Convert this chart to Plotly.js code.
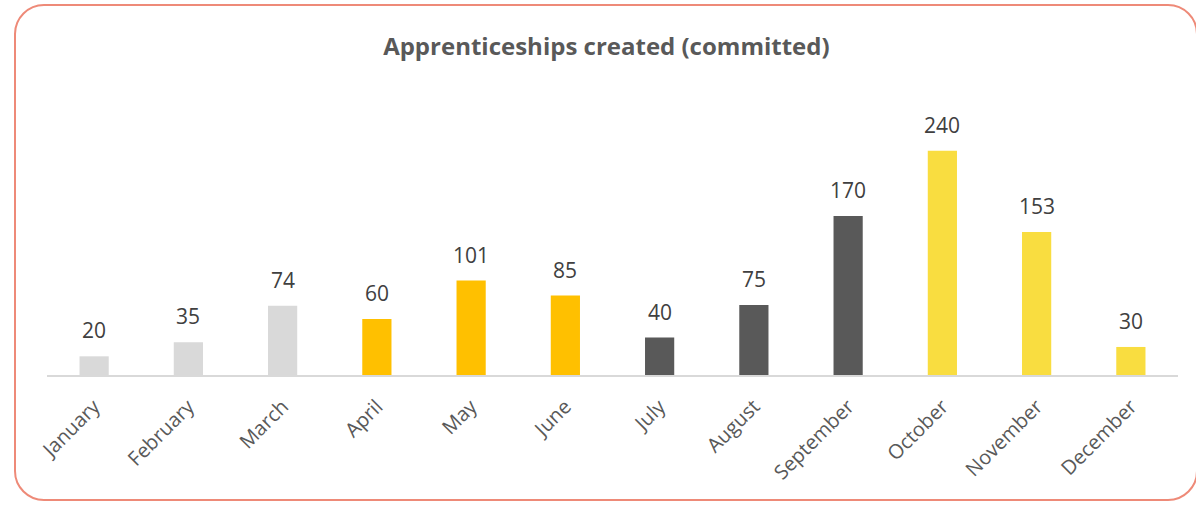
<!DOCTYPE html>
<html>
<head>
<meta charset="utf-8">
<script src="https://cdn.plot.ly/plotly-3.0.1.min.js"></script>
<style>
  html, body { margin: 0; padding: 0; background: #fff; overflow: hidden; }
  #frame { position: absolute; left: 14px; top: 4px; width: 1184px; height: 497px;
           border: 2.5px solid #EE8A78; border-radius: 30px; box-sizing: border-box; }
  #chart { position: absolute; left: 0; top: 0; width: 1196px; height: 505px; }
</style>
</head>
<body>
<div id="frame"></div>
<div id="chart"></div>
<script>
const months = ["January","February","March","April","May","June","July","August","September","October","November","December"];
const committed = [20, 35, 74, 60, 101, 85, 40, 75, 170, 240, 153, 30];
const quarterOfMonth = [0,0,0,1,1,1,2,2,2,3,3,3];

const quarterColors = ["#D9D9D9", "#FFC000", "#595959", "#F9DD40"];

const trace = {
  type: "bar",
  x: months,
  y: committed,
  marker: { color: quarterOfMonth.map(q => quarterColors[q]) },
  hoverinfo: "x+y"
};

const annotations = months.map((m, i) => ({
  x: m, y: committed[i], xref: "x", yref: "y",
  text: String(committed[i]), showarrow: false,
  yanchor: "bottom", yshift: 10,
  font: { family: "Open Sans, sans-serif", size: 21, color: "#404040" }
}));

const layout = {
  width: 1196, height: 505,
  paper_bgcolor: "rgba(0,0,0,0)", plot_bgcolor: "rgba(0,0,0,0)",
  margin: { l: 47, r: 18, t: 132, b: 130 },
  title: {
    text: "<b>Apprenticeships created (committed)</b>",
    font: { family: "Open Sans, sans-serif", size: 24, color: "#595959" },
    x: 0.507, xanchor: "center", y: 1 - 47/505, yanchor: "middle", yref: "container"
  },
  bargap: 0.69,
  showlegend: false,
  xaxis: {
    type: "category",
    showline: true, linecolor: "#D9D9D9", linewidth: 2,
    ticks: "", tickangle: -45, ticklabelstandoff: 10,
    tickfont: { family: "Open Sans, sans-serif", size: 20, color: "#595959" },
    showgrid: false, zeroline: false, fixedrange: true
  },
  yaxis: {
    range: [0, 260], visible: false, showgrid: false, zeroline: false, fixedrange: true
  },
  annotations: annotations
};

Plotly.newPlot("chart", [trace], layout, { displayModeBar: false, staticPlot: true });
</script>
</body>
</html>
